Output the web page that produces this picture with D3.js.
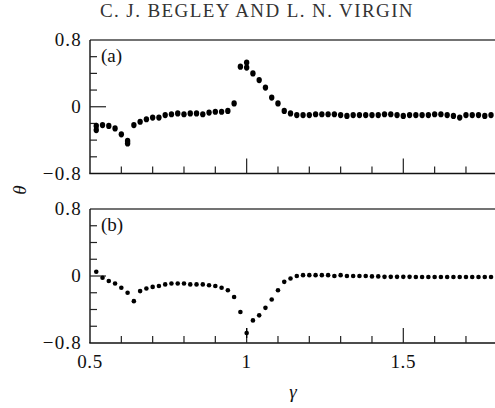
<!DOCTYPE html>
<html>
<head>
<meta charset="utf-8">
<script src="https://cdn.jsdelivr.net/npm/d3@7"></script>
<style>
  body { margin: 0; background: #fff; }
  svg { display: block; }
  svg text { font-family: "Liberation Serif", "Times New Roman", Times, "DejaVu Serif", serif; }
</style>
</head>
<body>
<svg id="chart" width="495" height="408"></svg>
<script>
// sampled forcing ratio (same grid for both panels)
var gamma = [0.52, 0.54, 0.56, 0.58, 0.60, 0.62, 0.64, 0.66, 0.68, 0.70, 0.72, 0.74,
  0.76, 0.78, 0.80, 0.82, 0.84, 0.86, 0.88, 0.90, 0.92, 0.94, 0.96, 0.98,
  1.00, 1.02, 1.04, 1.06, 1.08, 1.10, 1.12, 1.14, 1.16, 1.18, 1.20, 1.22,
  1.24, 1.26, 1.28, 1.30, 1.32, 1.34, 1.36, 1.38, 1.40, 1.42, 1.44, 1.46,
  1.48, 1.50, 1.52, 1.54, 1.56, 1.58, 1.60, 1.62, 1.64, 1.66, 1.68, 1.70,
  1.72, 1.74, 1.76, 1.78];

// panel (a)
var thetaA = [-0.23, -0.22, -0.23, -0.26, -0.33, -0.44, -0.22, -0.18, -0.15, -0.13, -0.13, -0.10,
  -0.09, -0.08, -0.09, -0.08, -0.08, -0.09, -0.07, -0.06, -0.06, -0.05, 0.04, 0.48,
  0.53, 0.40, 0.32, 0.23, 0.11, 0.04, -0.05, -0.08, -0.10, -0.10, -0.10, -0.09,
  -0.09, -0.09, -0.09, -0.10, -0.11, -0.10, -0.10, -0.10, -0.10, -0.10, -0.09, -0.09,
  -0.10, -0.11, -0.10, -0.10, -0.10, -0.10, -0.09, -0.09, -0.10, -0.11, -0.13, -0.10,
  -0.10, -0.10, -0.11, -0.10];
// repeated runs that show as second dots
var extraGammaA = [0.52, 0.62, 1.00];
var extraThetaA = [-0.28, -0.41, 0.47];

// panel (b)
var thetaB = [0.05, -0.02, -0.06, -0.09, -0.14, -0.20, -0.30, -0.18, -0.15, -0.13, -0.12, -0.10,
  -0.09, -0.09, -0.09, -0.10, -0.10, -0.10, -0.11, -0.12, -0.14, -0.17, -0.25, -0.43,
  -0.68, -0.53, -0.47, -0.38, -0.28, -0.17, -0.07, -0.03, 0.00, 0.01, 0.01, 0.01,
  0.01, 0.01, 0.00, 0.01, 0.00, 0.00, 0.00, 0.00, -0.005, -0.005, -0.01, -0.01,
  -0.01, -0.01, -0.01, -0.012, -0.012, -0.012, -0.012, -0.012, -0.012, -0.012, -0.012, -0.012,
  -0.012, -0.012, -0.012, -0.012];
var barGammaB = [1.00];
var barLowB = [-0.74];
var barHighB = [-0.62];

var xMinor = [0.6, 0.7, 0.8, 0.9, 1.1, 1.2, 1.3, 1.4, 1.6, 1.7];
var xMajor = [1.0, 1.5];
var xLabels = [0.5, 1, 1.5];
var yMinor = [-0.6, -0.4, -0.2, 0.2, 0.4, 0.6];
var yLabels = [-0.8, 0, 0.8];

var svg = d3.select("#chart");
var serif = "Liberation Serif, Times New Roman, serif";

var x = d3.scaleLinear().domain([0.5, 1.8]).range([90, 497.3]);

svg.append("text")
  .attr("x", 257).attr("y", 17)
  .attr("text-anchor", "middle")
  .style("font-family", serif)
  .attr("font-size", 19)
  .attr("letter-spacing", 1.4)
  .attr("fill", "#333")
  .text("C. J. BEGLEY AND L. N. VIRGIN");

function drawPanel(y, label, showX) {
  var g = svg.append("g");
  var top = y(0.8), bottom = y(-0.8);

  // frame: top, left, bottom
  g.append("line").attr("x1", 90).attr("x2", 500).attr("y1", top).attr("y2", top)
    .attr("stroke", "#444").attr("stroke-width", 1.4);
  g.append("line").attr("x1", 90).attr("x2", 90).attr("y1", top).attr("y2", bottom)
    .attr("stroke", "#111").attr("stroke-width", 1.4);
  g.append("line").attr("x1", 89.3).attr("x2", 500).attr("y1", bottom).attr("y2", bottom)
    .attr("stroke", "#111").attr("stroke-width", 1.6);

  // x ticks pointing up
  g.selectAll(".xmin").data(xMinor).join("line")
    .attr("x1", x).attr("x2", x).attr("y1", bottom).attr("y2", bottom - 7)
    .attr("stroke", "#222").attr("stroke-width", 1.2);
  g.selectAll(".xmaj").data(xMajor).join("line")
    .attr("x1", x).attr("x2", x).attr("y1", bottom).attr("y2", bottom - 15)
    .attr("stroke", "#222").attr("stroke-width", 1.2);

  // y ticks pointing right
  g.selectAll(".ymin").data(yMinor).join("line")
    .attr("x1", 90).attr("x2", 97).attr("y1", y).attr("y2", y)
    .attr("stroke", "#222").attr("stroke-width", 1.2);
  g.append("line").attr("x1", 90).attr("x2", 106).attr("y1", y(0)).attr("y2", y(0))
    .attr("stroke", "#222").attr("stroke-width", 1.2);

  g.selectAll(".ylab").data(yLabels).join("text")
    .attr("x", 82).attr("y", y).attr("dy", "0.34em")
    .attr("text-anchor", "end")
    .style("font-family", serif)
    .attr("font-size", 19)
    .attr("letter-spacing", 1.2)
    .attr("fill", "#111")
    .text(function (d) { return d === 0 ? "0" : d3.format(".1f")(d).replace("-", "\u2212"); });

  if (showX) {
    g.selectAll(".xlab").data(xLabels).join("text")
      .attr("x", x).attr("y", bottom + 25)
      .attr("text-anchor", "middle")
      .style("font-family", serif)
      .attr("font-size", 19)
      .attr("letter-spacing", 0.6)
      .attr("fill", "#111")
      .text(function (d) { return String(d); });
  }

  g.append("text")
    .attr("x", 101).attr("y", top + 22)
    .style("font-family", serif)
    .attr("font-size", 19)
    .attr("fill", "#111")
    .text(label);
  return g;
}

var yA = d3.scaleLinear().domain([-0.8, 0.8]).range([173.5, 40]);
var yB = d3.scaleLinear().domain([-0.8, 0.8]).range([343, 209]);

var gA = drawPanel(yA, "(a)", false);
var gB = drawPanel(yB, "(b)", true);

var ptsA = gamma.map(function (g, i) { return [g, thetaA[i]]; })
  .concat(extraGammaA.map(function (g, i) { return [g, extraThetaA[i]]; }));

gA.append("g").selectAll("ellipse").data(ptsA).join("ellipse")
  .attr("cx", function (d) { return x(d[0]); })
  .attr("cy", function (d) { return yA(d[1]); })
  .attr("rx", 2.7).attr("ry", 3.1)
  .attr("fill", "#000");

gB.append("g").selectAll("line").data(barGammaB).join("line")
  .attr("x1", x).attr("x2", x)
  .attr("y1", function (d, i) { return yB(barLowB[i]); })
  .attr("y2", function (d, i) { return yB(barHighB[i]); })
  .attr("stroke", "#000").attr("stroke-width", 1.3);

gB.append("g").selectAll("circle").data(gamma).join("circle")
  .attr("cx", function (d) { return x(d); })
  .attr("cy", function (d, i) { return yB(thetaB[i]); })
  .attr("r", 2.3)
  .attr("fill", "#000");

svg.append("text")
  .attr("x", 293).attr("y", 398)
  .attr("text-anchor", "middle")
  .style("font-family", serif)
  .attr("font-style", "italic").attr("font-size", 19)
  .attr("fill", "#111")
  .text("\u03b3");

svg.append("text")
  .attr("transform", "translate(26,190) rotate(-90)")
  .attr("text-anchor", "middle")
  .style("font-family", serif)
  .attr("font-style", "italic").attr("font-size", 19)
  .attr("fill", "#111")
  .text("\u03b8");
</script>
</body>
</html>
